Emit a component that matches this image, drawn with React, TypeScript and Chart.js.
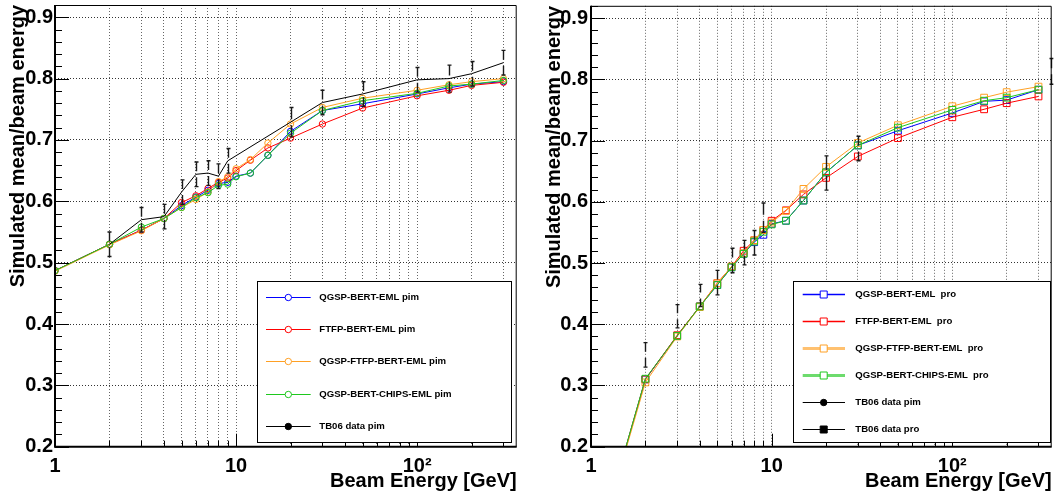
import React, { useEffect, useRef } from 'react';
import { Chart, registerables } from 'chart.js';

Chart.register(...registerables);

// ---------------- DATA ----------------
const energiesPimSim = [1, 2, 3, 4, 5, 6, 7, 8, 9, 10, 12, 15, 20, 30, 50, 100, 150, 200, 300];
const pimQgspBert = [0.487, 0.530, 0.553, 0.572, 0.593, 0.607, 0.618, 0.629, 0.631, 0.641, 0.646, 0.675, 0.714, 0.748, 0.759, 0.775, 0.785, 0.791, 0.795];
const pimFtfpBert = [0.487, 0.530, 0.553, 0.572, 0.598, 0.609, 0.621, 0.631, 0.638, 0.650, 0.667, 0.687, 0.703, 0.726, 0.752, 0.772, 0.781, 0.789, 0.794];
const pimQgspFtfpBert = [0.486, 0.529, 0.552, 0.572, 0.590, 0.603, 0.615, 0.632, 0.640, 0.653, 0.668, 0.695, 0.726, 0.753, 0.768, 0.781, 0.790, 0.795, 0.800];
const pimQgspBertChips = [0.487, 0.530, 0.558, 0.572, 0.590, 0.606, 0.614, 0.626, 0.628, 0.640, 0.646, 0.675, 0.711, 0.748, 0.764, 0.776, 0.788, 0.791, 0.797];

const energiesPimData = [2, 3, 4, 5, 6, 7, 8, 9, 20, 30, 50, 100, 150, 200, 300];
const pimData = [0.530, 0.570, 0.575, 0.615, 0.644, 0.646, 0.641, 0.666, 0.729, 0.761, 0.775, 0.798, 0.800, 0.808, 0.826];
const pimDataErr = [0.020, 0.020, 0.020, 0.020, 0.020, 0.020, 0.020, 0.020, 0.024, 0.020, 0.020, 0.020, 0.022, 0.020, 0.020];

const energiesProSim = [1, 2, 3, 4, 5, 6, 7, 8, 9, 10, 12, 15, 20, 30, 50, 100, 150, 200, 300];
const proQgspBert = [0.0, 0.310, 0.381, 0.429, 0.464, 0.493, 0.515, 0.534, 0.546, 0.564, 0.569, 0.602, 0.648, 0.692, 0.716, 0.745, 0.764, 0.766, 0.783];
const proFtfpBert = [0.0, 0.310, 0.382, 0.429, 0.467, 0.494, 0.520, 0.537, 0.554, 0.569, 0.586, 0.612, 0.639, 0.674, 0.704, 0.738, 0.751, 0.761, 0.772];
const proQgspFtfpBert = [0.0, 0.305, 0.380, 0.428, 0.467, 0.494, 0.516, 0.537, 0.554, 0.566, 0.585, 0.621, 0.657, 0.696, 0.725, 0.756, 0.770, 0.779, 0.788];
const proQgspBertChips = [0.0, 0.311, 0.381, 0.429, 0.464, 0.493, 0.515, 0.535, 0.551, 0.563, 0.569, 0.602, 0.648, 0.692, 0.721, 0.750, 0.765, 0.770, 0.783];

const energiesProData = [2, 3, 4, 5, 6, 7, 8, 9, 20, 30, 350];
const proData = [0.350, 0.413, 0.447, 0.468, 0.504, 0.517, 0.533, 0.574, 0.647, 0.687, 0.813];
const proDataErr = [0.020, 0.019, 0.018, 0.020, 0.020, 0.020, 0.020, 0.024, 0.028, 0.020, 0.021];

// axis ticks
const xGridValues = [1, 2, 3, 4, 5, 6, 7, 8, 9, 10, 20, 30, 40, 50, 60, 70, 80, 90, 100, 200, 300];
const xMajorValues = [1, 10, 100];
const xTickLabels = ['1', '10', '10²'];
const yTickValues = [0.2, 0.3, 0.4, 0.5, 0.6, 0.7, 0.8, 0.9];
const yMinorStep = 0.02;
const xMin = 1;
const xMax = 355;
const yMin = 0.2;
const yMax = 0.92;

// ---------------- STYLE ----------------
const FONT = '"Liberation Sans", Arial, Helvetica, sans-serif';
const BLUE = '#0000ff';
const RED = '#ff0000';
const ORANGE = '#ffa024';
const GREEN = '#1ec81e';

const pts = (xs: number[], ys: number[]) => xs.map((x, i) => ({ x, y: ys[i] }));

// ---------------- PLUGINS ----------------
const errorBarPlugin = {
  id: 'errorBars',
  afterDatasetsDraw(chart: any) {
    const { ctx, chartArea: a, scales } = chart;
    ctx.save();
    ctx.beginPath();
    ctx.rect(a.left, a.top, a.right - a.left + 2, a.bottom - a.top);
    ctx.clip();
    ctx.strokeStyle = '#1a1a1a';
    ctx.lineWidth = 1.4;
    chart.data.datasets.forEach((ds: any) => {
      if (!ds.errorBars) return;
      ds.data.forEach((p: any, i: number) => {
        const e = ds.errorBars[i];
        const px = Math.round(scales.x.getPixelForValue(p.x)) + 0.5;
        const yc = scales.y.getPixelForValue(p.y);
        const yt = scales.y.getPixelForValue(p.y + e);
        const yb = scales.y.getPixelForValue(p.y - e);
        const gap = 3;
        ctx.beginPath();
        ctx.moveTo(px, yt);
        ctx.lineTo(px, Math.max(yt, yc - gap));
        ctx.moveTo(px, Math.min(yb, yc + gap));
        ctx.lineTo(px, yb);
        ctx.moveTo(px - 2, yt);
        ctx.lineTo(px + 2, yt);
        ctx.moveTo(px - 2, yb);
        ctx.lineTo(px + 2, yb);
        ctx.stroke();
      });
    });
    ctx.restore();
  },
};

const framePlugin = {
  id: 'rootFrame',
  afterDatasetsDraw(chart: any) {
    const { ctx, chartArea: a, scales } = chart;
    ctx.save();
    ctx.strokeStyle = '#000';
    ctx.lineWidth = 1;
    ctx.beginPath();
    const n = Math.round((yMax - yMin) / yMinorStep);
    for (let k = 0; k <= n; k++) {
      const v = yMin + k * yMinorStep;
      const major = Math.abs(v * 10 - Math.round(v * 10)) < 1e-6;
      const py = Math.round(scales.y.getPixelForValue(v)) + 0.5;
      ctx.moveTo(a.left, py);
      ctx.lineTo(a.left + (major ? 14 : 7), py);
    }
    xGridValues.forEach((v) => {
      const major = xMajorValues.includes(v);
      const px = Math.round(scales.x.getPixelForValue(v)) + 0.5;
      ctx.moveTo(px, a.bottom);
      ctx.lineTo(px, a.bottom - (major ? 13 : 6));
    });
    ctx.stroke();
    // frame
    ctx.lineWidth = 1;
    ctx.beginPath();
    ctx.moveTo(a.left, a.top + 0.5);
    ctx.lineTo(a.right - 0.5, a.top + 0.5);
    ctx.lineTo(a.right - 0.5, a.bottom);
    ctx.stroke();
    ctx.lineWidth = 2;
    ctx.beginPath();
    ctx.moveTo(a.left, a.top);
    ctx.lineTo(a.left, a.bottom);
    ctx.lineTo(a.right, a.bottom);
    ctx.stroke();
    ctx.restore();
  },
};

const legendPlugin = {
  id: 'rootLegend',
  afterDraw(chart: any, _args: any, opts: any) {
    if (!opts || !opts.box) return;
    const { ctx } = chart;
    const [x1, y1, x2, y2] = opts.box;
    ctx.save();
    ctx.fillStyle = '#fff';
    ctx.fillRect(x1, y1, x2 - x1, y2 - y1);
    ctx.strokeStyle = '#000';
    ctx.lineWidth = 1;
    ctx.strokeRect(Math.round(x1) + 0.5, Math.round(y1) + 0.5, Math.round(x2 - x1), Math.round(y2 - y1));
    ctx.font = `bold ${opts.fontSize}px ${FONT}`;
    ctx.textBaseline = 'middle';
    ctx.textAlign = 'left';
    opts.entries.forEach((en: any, i: number) => {
      const y = Math.round(opts.y0 + i * opts.dy) + 0.5;
      ctx.save();
      ctx.globalAlpha = en.alpha ?? 1;
      ctx.strokeStyle = en.color;
      ctx.lineWidth = en.lineWidth ?? 1;
      ctx.beginPath();
      ctx.moveTo(opts.line[0], y);
      ctx.lineTo(opts.line[1], y);
      ctx.stroke();
      ctx.restore();
      ctx.strokeStyle = en.color;
      ctx.fillStyle = en.color;
      ctx.lineWidth = 1;
      ctx.beginPath();
      if (en.marker === 'circle') {
        ctx.arc(opts.marker, y, 3.2, 0, Math.PI * 2);
      } else {
        ctx.rect(opts.marker - 3.5, y - 3.5, 7, 7);
      }
      if (en.filled) ctx.fill();
      else {
        ctx.save();
        ctx.fillStyle = '#fff';
        ctx.fill();
        ctx.restore();
      }
      ctx.stroke();
      ctx.fillStyle = '#000';
      ctx.fillText(en.label, opts.text, y);
    });
    ctx.restore();
  },
};

// ---------------- CONFIG ----------------
function simDataset(label: string, xs: number[], ys: number[], color: string, style: string, order: number) {
  return {
    label,
    data: pts(xs, ys),
    borderColor: color,
    backgroundColor: 'rgba(0,0,0,0)',
    borderWidth: 1,
    pointStyle: style,
    pointRadius: style === 'rect' ? 4.8 : 3.2,
    pointBorderWidth: 1,
    pointBorderColor: color,
    pointBackgroundColor: 'rgba(0,0,0,0)',
    tension: 0,
    order,
  };
}

function buildConfig(datasets: any[], axisW: number, padRight: number, titlePad: number, tickPad: number, legend: any) {
  const font = { family: FONT, size: 20, weight: 'bold' as const };
  return {
    type: 'line' as const,
    data: { datasets },
    plugins: [errorBarPlugin, framePlugin, legendPlugin],
    options: {
      responsive: false,
      animation: false as const,
      events: [],
      devicePixelRatio: 1,
      layout: { padding: { top: 4, left: 0, right: padRight, bottom: 0 } },
      plugins: { legend: { display: false }, tooltip: { enabled: false }, rootLegend: legend },
      scales: {
        x: {
          type: 'logarithmic' as const,
          min: xMin,
          max: xMax,
          afterBuildTicks: (s: any) => {
            s.ticks = xGridValues.map((v) => ({ value: v, major: xMajorValues.includes(v) }));
          },
          afterFit: (s: any) => {
            s.height = 52.3;
            s.paddingLeft = 0;
            s.paddingRight = 0;
          },
          ticks: {
            autoSkip: false,
            maxRotation: 0,
            padding: 8,
            color: '#000',
            font,
            callback: (v: any) => {
              const k = xMajorValues.indexOf(Number(v));
              return k >= 0 ? xTickLabels[k] : '';
            },
          },
          grid: { color: 'rgba(0,0,0,0.6)', lineWidth: 1, drawTicks: false },
          border: { display: false, dash: [1, 2] },
          title: {
            display: true,
            text: 'Beam Energy [GeV]',
            align: 'end' as const,
            color: '#000',
            font,
            padding: { top: 0, bottom: 6 },
          },
        },
        y: {
          type: 'linear' as const,
          min: yMin,
          max: yMax,
          afterBuildTicks: (s: any) => {
            s.ticks = yTickValues.map((v) => ({ value: v }));
          },
          afterFit: (s: any) => {
            s.width = axisW;
            s.paddingTop = 0;
            s.paddingBottom = 0;
          },
          ticks: {
            padding: tickPad,
            color: '#000',
            font,
            callback: (v: any) => Number(v).toFixed(1),
          },
          grid: { color: 'rgba(0,0,0,0.8)', lineWidth: 1, drawTicks: false },
          border: { display: false, dash: [1, 2] },
          title: {
            display: true,
            text: 'Simulated mean/beam energy',
            align: 'end' as const,
            color: '#000',
            font,
            padding: { top: titlePad, bottom: 0 },
          },
        },
      },
    },
  };
}

const leftDatasets = [
  simDataset('QGSP-BERT-EML pim', energiesPimSim, pimQgspBert, BLUE, 'circle', 4),
  simDataset('FTFP-BERT-EML pim', energiesPimSim, pimFtfpBert, RED, 'circle', 3),
  simDataset('QGSP-FTFP-BERT-EML pim', energiesPimSim, pimQgspFtfpBert, ORANGE, 'circle', 2),
  simDataset('QGSP-BERT-CHIPS-EML pim', energiesPimSim, pimQgspBertChips, GREEN, 'circle', 1),
  {
    label: 'TB06 data pim',
    data: pts(energiesPimData, pimData),
    borderColor: '#000',
    borderWidth: 1,
    pointRadius: 0,
    tension: 0,
    order: 0,
    errorBars: pimDataErr,
  },
];

const rightDatasets = [
  { ...simDataset('QGSP-BERT-EML  pro', energiesProSim, proQgspBert, BLUE, 'rect', 4), clip: 0 },
  { ...simDataset('FTFP-BERT-EML  pro', energiesProSim, proFtfpBert, RED, 'rect', 3), clip: 0 },
  { ...simDataset('QGSP-FTFP-BERT-EML  pro', energiesProSim, proQgspFtfpBert, ORANGE, 'rect', 2), clip: 0 },
  { ...simDataset('QGSP-BERT-CHIPS-EML  pro', energiesProSim, proQgspBertChips, GREEN, 'rect', 1), clip: 0 },
  { label: 'TB06 data pim', data: [], borderColor: '#000', pointRadius: 0, showLine: false },
  {
    label: 'TB06 data pro',
    data: pts(energiesProData, proData),
    borderColor: '#000',
    pointRadius: 0,
    showLine: false,
    order: 0,
    errorBars: proDataErr,
  },
];

const leftLegend = {
  box: [256.7, 281, 510.7, 442.3],
  y0: 296.7,
  dy: 32.3,
  line: [266, 310.7],
  marker: 288.3,
  text: 319.3,
  fontSize: 9.6,
  entries: [
    { label: leftDatasets[0].label, color: BLUE, marker: 'circle', filled: false },
    { label: leftDatasets[1].label, color: RED, marker: 'circle', filled: false },
    { label: leftDatasets[2].label, color: ORANGE, marker: 'circle', filled: false },
    { label: leftDatasets[3].label, color: GREEN, marker: 'circle', filled: false },
    { label: leftDatasets[4].label, color: '#000', marker: 'circle', filled: true },
  ],
};

const rightLegend = {
  box: [263.7, 281, 521, 442.3],
  y0: 294.3,
  dy: 26.9,
  line: [273.7, 316],
  marker: 294.7,
  text: 326.3,
  fontSize: 9.6,
  entries: [
    { label: rightDatasets[0].label, color: BLUE, marker: 'rect', filled: false, lineWidth: 1.3 },
    { label: rightDatasets[1].label, color: RED, marker: 'rect', filled: false, lineWidth: 1.3 },
    { label: rightDatasets[2].label, color: ORANGE, marker: 'rect', filled: false, lineWidth: 3, alpha: 0.65 },
    { label: rightDatasets[3].label, color: GREEN, marker: 'rect', filled: false, lineWidth: 3, alpha: 0.65 },
    { label: rightDatasets[4].label, color: '#000', marker: 'circle', filled: true },
    { label: rightDatasets[5].label, color: '#000', marker: 'rect', filled: true },
  ],
};

export default function App() {
  const leftRef = useRef<HTMLCanvasElement | null>(null);
  const rightRef = useRef<HTMLCanvasElement | null>(null);

  useEffect(() => {
    const c1 = new Chart(leftRef.current as HTMLCanvasElement, buildConfig(leftDatasets, 55, 12.3, 6, 2, leftLegend) as any);
    const c2 = new Chart(rightRef.current as HTMLCanvasElement, buildConfig(rightDatasets, 62, 6.3, 13, 3, rightLegend) as any);
    return () => {
      c1.destroy();
      c2.destroy();
    };
  }, []);

  return (
    <div style={{ position: 'fixed', left: 0, top: 0, width: 1058, height: 499, background: '#fff' }}>
      <canvas ref={leftRef} width={529} height={499} style={{ position: 'absolute', left: 0, top: 0, width: 529, height: 499 }} />
      <canvas ref={rightRef} width={529} height={499} style={{ position: 'absolute', left: 529, top: 0, width: 529, height: 499 }} />
    </div>
  );
}
